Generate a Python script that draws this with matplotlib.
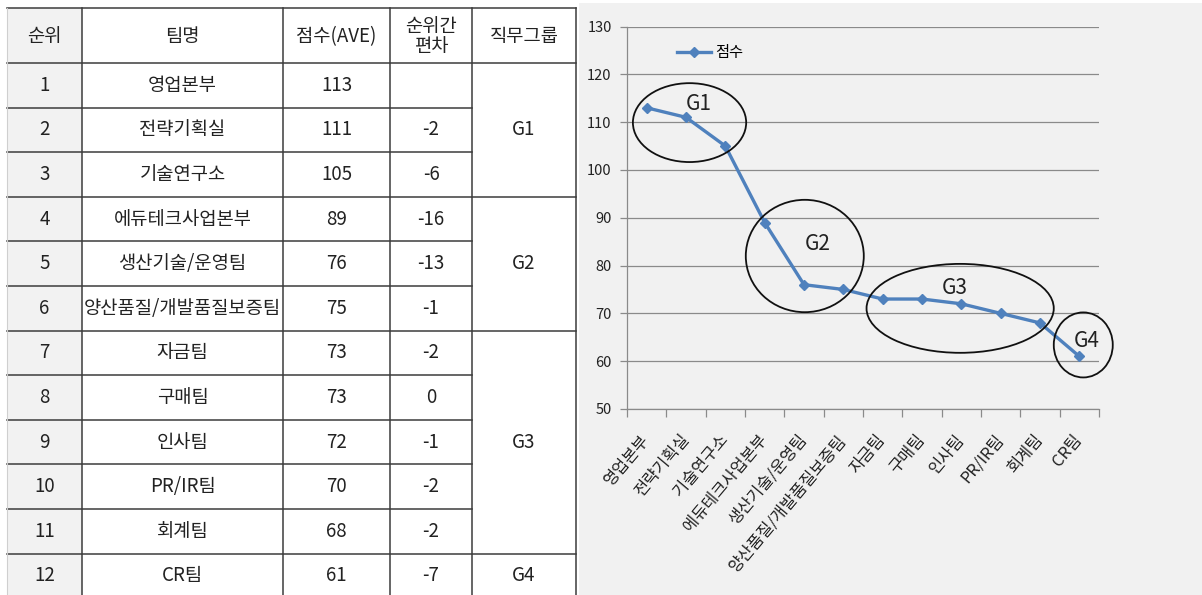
import matplotlib
matplotlib.use("Agg")
import matplotlib.pyplot as plt
from matplotlib.patches import Rectangle, Ellipse
import numpy as np

plt.rcParams['font.family'] = ['Noto Sans CJK KR', 'DejaVu Sans']

# ---- data -------------------------------------------------------------
ranks = list(range(1, 13))
teams = ['영업본부', '전략기획실', '기술연구소', '에듀테크사업본부', '생산기술/운영팀',
         '양산품질/개발품질보증팀', '자금팀', '구매팀', '인사팀', 'PR/IR팀', '회계팀', 'CR팀']
scores = [113, 111, 105, 89, 76, 75, 73, 73, 72, 70, 68, 61]
rank_gaps = [None, -2, -6, -16, -13, -1, -2, 0, -1, -2, -2, -7]
groups = ['G1', 'G2', 'G3', 'G4']
group_sizes = [3, 3, 5, 1]
headers = ['순위', '팀명', '점수(AVE)', '순위간\n편차', '직무그룹']
series_name = '점수'
y_ticks = [50, 60, 70, 80, 90, 100, 110, 120, 130]

# group circles on the chart: (centre x, centre y, width, height) in data units
group_ellipses = [(1.09, 109.9, 2.88, 16.5),
                  (4.02, 82.0, 3.0, 23.5),
                  (7.97, 71.05, 4.76, 18.6),
                  (11.1, 63.4, 1.5, 13.6)]
group_label_pos = [(1.32, 113.7), (4.35, 84.6), (7.84, 75.3), (11.18, 64.2)]

# ---- figure -----------------------------------------------------------
W, H = 1202, 595
fig = plt.figure(figsize=(W / 100, H / 100), dpi=100)
canvas = fig.add_axes([0, 0, 1, 1])
canvas.set_xlim(0, W)
canvas.set_ylim(H, 0)
canvas.axis('off')

# chart panel background
canvas.add_patch(Rectangle((579, 3), W - 579, H - 3, fc='#f1f1f1', ec='none', zorder=0))

# ---- table ------------------------------------------------------------
line_c = '#3c3c3c'
text_c = '#222222'
col_x = [7, 82, 283, 390, 472, 576]
top, head_bottom, row_h = 7.5, 63, 44.6
row_y = [head_bottom + i * row_h for i in range(13)]
col_c = [(col_x[i] + col_x[i + 1]) / 2 for i in range(5)]

canvas.add_patch(Rectangle((col_x[0], top), col_x[1] - col_x[0], H - top,
                           fc='#f2f2f2', ec='none', zorder=1))

lw = 1.1
canvas.plot([col_x[0], col_x[-1]], [top, top], color=line_c, lw=lw, zorder=3)
canvas.plot([col_x[0], col_x[-1]], [head_bottom, head_bottom], color=line_c, lw=lw, zorder=3)
group_ends = np.cumsum(group_sizes)
for i in range(1, 12):
    x_end = col_x[-1] if i in group_ends else col_x[-2]
    canvas.plot([col_x[0], x_end], [row_y[i], row_y[i]], color=line_c, lw=lw, zorder=3)
canvas.plot([col_x[0], col_x[0]], [top, H], color='#cfcfcf', lw=0.8, zorder=3)
for xv in col_x[1:]:
    canvas.plot([xv, xv], [top, H], color=line_c, lw=lw, zorder=3)

fs = 13.5
for c, h in zip(col_c, headers):
    canvas.text(c, (top + head_bottom) / 2 + 1, h, ha='center', va='center',
                fontsize=fs, color=text_c, linespacing=0.92, zorder=4)

for i in range(12):
    yc = (row_y[i] + row_y[i + 1]) / 2
    canvas.text(col_c[0], yc, str(ranks[i]), ha='center', va='center', fontsize=fs, color=text_c)
    canvas.text(col_c[1], yc, teams[i], ha='center', va='center', fontsize=fs, color=text_c)
    canvas.text(col_c[2], yc, str(scores[i]), ha='center', va='center', fontsize=fs, color=text_c)
    if rank_gaps[i] is not None:
        canvas.text(col_c[3], yc, str(rank_gaps[i]), ha='center', va='center',
                    fontsize=fs, color=text_c)

start = 0
for g, n in zip(groups, group_sizes):
    yc = (row_y[start] + row_y[start + n]) / 2
    canvas.text(col_c[4], yc, g, ha='center', va='center', fontsize=fs, color=text_c)
    start += n

# ---- line chart -------------------------------------------------------
ax_l, ax_r, ax_t, ax_b = 627, 1099, 26.5, 409
ax = fig.add_axes([ax_l / W, 1 - ax_b / H, (ax_r - ax_l) / W, (ax_b - ax_t) / H])
ax.set_facecolor('none')
grid_c = '#8a8a8a'

x = np.arange(len(teams))
ax.plot(x, scores, color='#4f81bd', lw=2.4, marker='D', ms=5.5, label=series_name, zorder=3)
ax.set_xlim(-0.5, len(teams) - 0.5)
ax.set_ylim(y_ticks[0], y_ticks[-1])
ax.set_yticks(y_ticks)
ax.yaxis.grid(True, color=grid_c, lw=0.9)
ax.set_axisbelow(True)
for s in ['top', 'right']:
    ax.spines[s].set_visible(False)
for s in ['left', 'bottom']:
    ax.spines[s].set_color(grid_c)
    ax.spines[s].set_linewidth(0.9)

ax.set_xticks(x)
ax.set_xticklabels(teams, rotation=50, ha='right', va='center',
                   rotation_mode='anchor', fontsize=11.8, color=text_c)
ax.set_xticks(np.arange(-0.5, len(teams), 1), minor=True)
ax.tick_params(axis='x', which='major', length=0, pad=20)
ax.tick_params(axis='x', which='minor', length=6, color=grid_c, width=0.9)
ax.tick_params(axis='y', length=5, color=grid_c, width=0.9, labelsize=10.5,
               labelcolor=text_c, pad=6)

ax.legend(loc='center left', bbox_to_anchor=((677 - ax_l) / (ax_r - ax_l), (ax_b - 53) / (ax_b - ax_t)),
          frameon=False, fontsize=11, handlelength=2.2, handletextpad=0.3,
          borderpad=0, borderaxespad=0)

for (xc, yc, w, h), (tx, ty), g in zip(group_ellipses, group_label_pos, groups):
    ax.add_patch(Ellipse((xc, yc), w, h, fc='none', ec='#111111', lw=1.3,
                         clip_on=False, zorder=4))
    ax.text(tx, ty, g, ha='center', va='center', fontsize=15, color=text_c, zorder=5)

fig.savefig('out.png', dpi=100)
